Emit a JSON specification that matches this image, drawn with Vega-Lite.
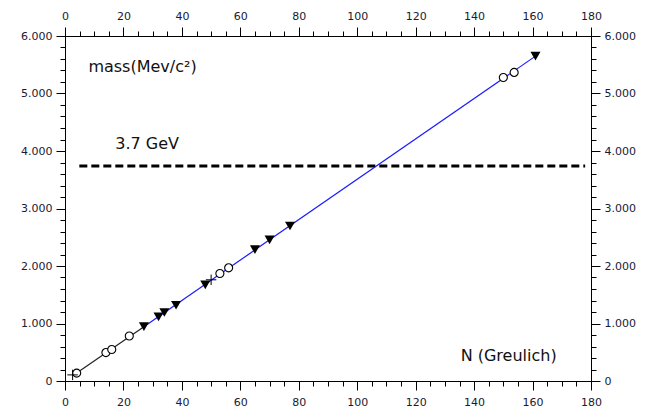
{
  "$schema": "https://vega.github.io/schema/vega-lite/v6.json",
  "width": 526,
  "height": 345,
  "autosize": "none",
  "padding": {"left": 65, "top": 36, "right": 55, "bottom": 32},
  "background": "white",
  "config": {
    "view": {"stroke": "black", "strokeWidth": 1},
    "axis": {
      "domainColor": "black",
      "tickColor": "black",
      "labelColor": "#1a1a33",
      "labelFont": "DejaVu Sans",
      "labelFontSize": 11,
      "labelOverlap": false,
      "labelFlush": false,
      "labelBound": false,
      "grid": false,
      "title": null
    }
  },
  "datasets": {
    "lines": [
      {"N": 3, "mass": 106, "seg": "black"},
      {"N": 27, "mass": 945, "seg": "black"},
      {"N": 27, "mass": 945, "seg": "blue"},
      {"N": 161, "mass": 5650, "seg": "blue"}
    ],
    "pts": [
      {"N": 4, "mass": 137, "type": "circle"},
      {"N": 14, "mass": 494, "type": "circle"},
      {"N": 16, "mass": 548, "type": "circle"},
      {"N": 22, "mass": 782, "type": "circle"},
      {"N": 53, "mass": 1870, "type": "circle"},
      {"N": 56, "mass": 1968, "type": "circle"},
      {"N": 150, "mass": 5279, "type": "circle"},
      {"N": 153.7, "mass": 5367, "type": "circle"},
      {"N": 27, "mass": 945, "type": "tri"},
      {"N": 32, "mass": 1116, "type": "tri"},
      {"N": 34, "mass": 1192, "type": "tri"},
      {"N": 38, "mass": 1318, "type": "tri"},
      {"N": 48, "mass": 1672, "type": "tri"},
      {"N": 65, "mass": 2286, "type": "tri"},
      {"N": 70, "mass": 2454, "type": "tri"},
      {"N": 77, "mass": 2695, "type": "tri"},
      {"N": 161, "mass": 5650, "type": "tri"},
      {"N": 2.6, "mass": 106, "type": "cross"},
      {"N": 50, "mass": 1760, "type": "cross"}
    ],
    "dash": [
      {"N": 4.9, "mass": 3740},
      {"N": 178, "mass": 3740}
    ],
    "labels": [
      {"N": 8.0, "mass": 5380, "text": "mass(Mev/c²)"},
      {"N": 17.2, "mass": 4030, "text": "3.7 GeV"},
      {"N": 135.4, "mass": 353, "text": "N (Greulich)"}
    ]
  },
  "layer": [
    {
      "data": {"name": "dash"},
      "mark": {"type": "line", "color": "black", "strokeWidth": 3, "strokeDash": [8, 4]},
      "encoding": {
        "x": {"field": "N", "type": "quantitative", "scale": {"domain": [0, 180], "nice": false, "zero": false},
          "axis": {
            "orient": "bottom",
            "values": [0,5,10,15,20,25,30,35,40,45,50,55,60,65,70,75,80,85,90,95,100,105,110,115,120,125,130,135,140,145,150,155,160,165,170,175,180],
            "labelExpr": "datum.value % 20 == 0 ? '' + datum.value : ''",
            "tickSize": {"condition": {"test": "datum.value % 20 == 0", "value": 9}, "value": 5},
            "labelPadding": 6
          }},
        "y": {"field": "mass", "type": "quantitative", "scale": {"domain": [0, 6000], "nice": false},
          "axis": {
            "orient": "left",
            "values": [0,200,400,600,800,1000,1200,1400,1600,1800,2000,2200,2400,2600,2800,3000,3200,3400,3600,3800,4000,4200,4400,4600,4800,5000,5200,5400,5600,5800,6000],
            "labelExpr": "datum.value % 1000 == 0 ? (datum.value == 0 ? '0' : format(datum.value / 1000, '.3f')) : ''",
            "tickSize": {"condition": {"test": "datum.value % 1000 == 0", "value": 9}, "value": 5},
            "labelPadding": 4
          }}
      }
    },
    {
      "data": {"name": "lines"},
      "transform": [{"filter": "datum.seg == 'black'"}],
      "mark": {"type": "line", "color": "#222222", "strokeWidth": 1.2},
      "encoding": {
        "x": {"field": "N", "type": "quantitative",
          "axis": {
            "orient": "top",
            "values": [0,5,10,15,20,25,30,35,40,45,50,55,60,65,70,75,80,85,90,95,100,105,110,115,120,125,130,135,140,145,150,155,160,165,170,175,180],
            "labelExpr": "datum.value % 20 == 0 ? '' + datum.value : ''",
            "tickSize": {"condition": {"test": "datum.value % 20 == 0", "value": 9}, "value": 5},
            "labelPadding": 6
          }},
        "y": {"field": "mass", "type": "quantitative",
          "axis": {
            "orient": "right",
            "values": [0,200,400,600,800,1000,1200,1400,1600,1800,2000,2200,2400,2600,2800,3000,3200,3400,3600,3800,4000,4200,4400,4600,4800,5000,5200,5400,5600,5800,6000],
            "labelExpr": "datum.value % 1000 == 0 ? (datum.value == 0 ? '0' : format(datum.value / 1000, '.3f')) : ''",
            "tickSize": {"condition": {"test": "datum.value % 1000 == 0", "value": 9}, "value": 5},
            "labelPadding": 4
          }}
      }
    },
    {
      "data": {"name": "lines"},
      "transform": [{"filter": "datum.seg == 'blue'"}],
      "mark": {"type": "line", "color": "#1a1aff", "strokeWidth": 1.2},
      "encoding": {
        "x": {"field": "N", "type": "quantitative", "axis": null},
        "y": {"field": "mass", "type": "quantitative", "axis": null}
      }
    },
    {
      "data": {"name": "pts"},
      "transform": [{"filter": "datum.type == 'circle'"}],
      "mark": {"type": "point", "shape": "circle", "filled": true, "fill": "white", "stroke": "black", "strokeWidth": 1.1, "size": 65, "opacity": 1},
      "encoding": {
        "x": {"field": "N", "type": "quantitative", "axis": null},
        "y": {"field": "mass", "type": "quantitative", "axis": null}
      }
    },
    {
      "data": {"name": "pts"},
      "transform": [{"filter": "datum.type == 'tri'"}],
      "mark": {"type": "point", "shape": "triangle-down", "filled": true, "color": "black", "size": 100, "opacity": 1},
      "encoding": {
        "x": {"field": "N", "type": "quantitative", "axis": null},
        "y": {"field": "mass", "type": "quantitative", "axis": null}
      }
    },
    {
      "data": {"name": "pts"},
      "transform": [{"filter": "datum.type == 'cross'"}],
      "mark": {"type": "point", "shape": "M-1,0H1M0,-1V1", "filled": false, "stroke": "black", "strokeWidth": 1, "size": 110, "opacity": 1},
      "encoding": {
        "x": {"field": "N", "type": "quantitative", "axis": null},
        "y": {"field": "mass", "type": "quantitative", "axis": null}
      }
    },
    {
      "data": {"name": "labels"},
      "mark": {"type": "text", "align": "left", "baseline": "alphabetic", "font": "DejaVu Sans", "fontSize": 16, "color": "#111111"},
      "encoding": {
        "x": {"field": "N", "type": "quantitative", "axis": null},
        "y": {"field": "mass", "type": "quantitative", "axis": null},
        "text": {"field": "text"}
      }
    }
  ],
  "resolve": {"axis": {"x": "independent", "y": "independent"}}
}
